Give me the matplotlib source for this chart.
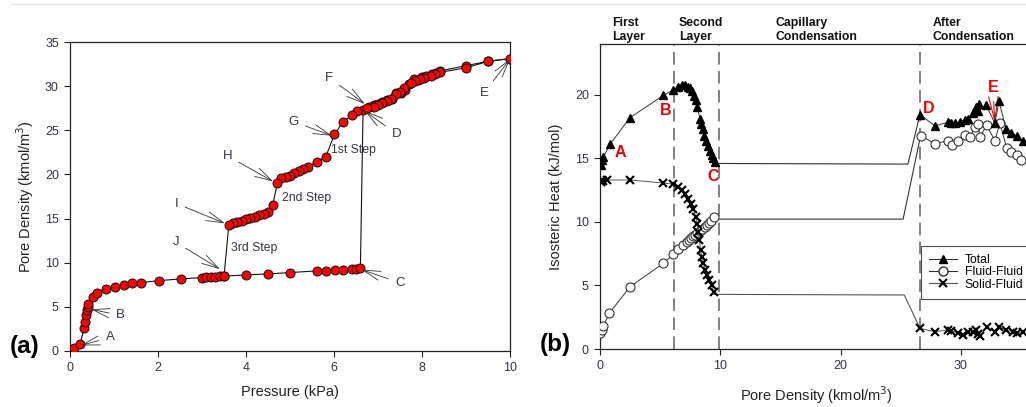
import matplotlib
matplotlib.use("Agg")
import matplotlib.pyplot as plt
from matplotlib.lines import Line2D

plt.rcParams['font.family'] = ['Liberation Sans', 'DejaVu Sans']

# ---- (a) adsorption / desorption isotherm ----
ads_p = [0.02, 0.09, 0.23, 0.32, 0.34, 0.36, 0.38, 0.40, 0.42, 0.53, 0.62, 0.82, 1.02,
         1.23, 1.42, 1.62, 2.02, 2.52, 3.01, 3.10, 3.20, 3.30, 3.40, 3.50, 4.01, 4.51,
         5.01, 5.62, 5.82, 6.02, 6.21, 6.42, 6.50, 6.60,
         6.66, 6.80, 6.91, 7.00, 7.10, 7.21, 7.31, 7.42, 7.52, 7.61, 7.70, 7.82, 7.91,
         8.01, 8.10, 8.22, 8.31, 8.41, 9.00, 9.51, 10.0]
ads_rho = [0.08, 0.27, 0.76, 2.55, 3.30, 4.05, 4.60, 5.00, 5.27, 6.10, 6.60, 7.00, 7.27,
           7.47, 7.65, 7.73, 7.95, 8.15, 8.30, 8.35, 8.37, 8.40, 8.43, 8.47, 8.60, 8.72,
           8.87, 9.06, 9.10, 9.17, 9.20, 9.25, 9.27, 9.37,
           27.3, 27.65, 27.9, 28.0, 28.2, 28.4, 28.6, 29.25, 29.3, 29.6, 30.3, 30.8, 30.7,
           31.1, 31.15, 31.35, 31.5, 31.75, 32.35, 32.85, 33.15]

des_p = [10.0, 9.51, 9.00, 8.42, 8.30, 8.20, 8.05, 7.95, 7.85, 7.75, 7.60, 7.50, 7.40,
         7.30, 7.20, 7.10, 7.00, 6.90, 6.75, 6.52, 6.41, 6.21, 6.01, 5.81, 5.61, 5.41,
         5.30, 5.20, 5.10, 5.00, 4.90, 4.80, 4.71, 4.61, 4.51, 4.40, 4.30, 4.20, 4.10,
         4.00, 3.90, 3.80, 3.70, 3.61, 3.50]
des_rho = [33.15, 32.85, 32.1, 31.6, 31.4, 31.2, 31.0, 30.8, 30.6, 30.35, 29.8, 29.4, 29.1,
           28.6, 28.3, 28.1, 27.9, 27.7, 27.55, 27.25, 26.7, 26.0, 24.55, 21.97, 21.45, 20.9,
           20.6, 20.35, 20.2, 19.85, 19.7, 19.6, 19.0, 16.55, 15.7, 15.5, 15.35, 15.2, 15.05,
           14.9, 14.75, 14.6, 14.5, 14.3, 8.45]

# point labels: text position, arrow tip
iso_labels = ['A', 'B', 'C', 'D', 'E', 'F', 'G', 'H', 'I', 'J']
iso_text = [(0.91, 1.5), (1.15, 4.0), (7.5, 7.7), (7.42, 24.6), (9.41, 29.25),
            (5.89, 31.0), (5.08, 26.0), (3.58, 22.1), (2.42, 16.7), (2.41, 12.3)]
iso_tip = [(0.25, 0.6), (0.48, 4.7), (6.63, 9.2), (6.7, 27.2), (10.0, 33.1),
           (6.7, 28.0), (5.95, 24.4), (4.62, 19.2), (3.52, 14.45), (3.41, 9.25)]
step_labels = ['1st Step', '2nd Step', '3rd Step']
step_pos = [(5.94, 22.8), (4.81, 17.3), (3.65, 11.6)]

# ---- (b) isosteric heat ----
tot_x1 = [0.06, 0.14, 0.28, 0.83, 2.49, 5.26, 6.10, 6.50, 6.85, 7.10, 7.30, 7.48, 7.67,
          7.80, 7.98, 8.10, 8.30, 8.40, 8.55, 8.67, 8.80, 8.95, 9.14, 9.28, 9.42, 9.56]
tot_y1 = [14.5, 14.9, 15.1, 16.1, 18.2, 19.95, 20.4, 20.65, 20.8, 20.75, 20.65, 20.55, 20.3,
          19.9, 19.6, 19.05, 18.13, 17.7, 17.35, 16.8, 16.4, 16.0, 15.6, 15.3, 15.05, 14.7]
tot_x2 = [26.6, 27.85, 28.95, 29.2, 29.5, 29.93, 30.34, 30.6, 31.0, 31.3, 31.5, 31.45,
          32.1, 32.83, 33.17, 33.75, 34.2, 34.7, 35.2]
tot_y2 = [18.45, 17.55, 17.85, 17.8, 17.75, 17.85, 18.05, 18.1, 18.6, 19.05, 19.3, 18.7,
          19.2, 17.75, 19.5, 17.35, 17.0, 16.75, 16.4]
tot_gap_x = [9.56, 25.6, 26.6]
tot_gap_y = [14.6, 14.55, 18.45]

ff_x1 = [0.0, 0.14, 0.28, 0.77, 2.49, 5.26, 6.10, 6.50, 6.93, 7.20, 7.40, 7.58, 7.70,
         7.90, 8.10, 8.30, 8.50, 8.70, 8.90, 9.10, 9.24, 9.48]
ff_y1 = [1.28, 1.47, 1.81, 2.8, 4.9, 6.74, 7.44, 7.84, 8.18, 8.4, 8.6, 8.75, 8.86,
         9.0, 9.13, 9.3, 9.43, 9.6, 9.74, 9.93, 10.1, 10.35]
ff_x2 = [26.66, 27.85, 28.95, 29.3, 29.78, 30.33, 30.75, 31.17, 31.45, 31.58, 32.14,
         32.83, 33.25, 33.8, 34.2, 34.63, 35.03]
ff_y2 = [16.8, 16.15, 16.4, 16.05, 16.35, 16.85, 16.7, 17.45, 17.7, 16.65, 17.6,
         16.4, 17.8, 15.85, 15.5, 15.3, 14.9]
ff_gap_x = [9.48, 25.2, 26.66]
ff_gap_y = [10.22, 10.22, 16.8]

sf_x1 = [0.06, 0.14, 0.28, 0.60, 2.49, 5.20, 6.10, 6.50, 6.80, 7.10, 7.34, 7.56, 7.76,
         7.95, 8.10, 8.17, 8.26, 8.36, 8.45, 8.60, 8.73, 8.87, 9.06, 9.28, 9.48]
sf_y1 = [13.15, 13.3, 13.25, 13.3, 13.3, 13.07, 12.97, 12.73, 12.5, 12.16, 11.8, 11.4, 11.0,
         10.4, 9.8, 9.2, 8.6, 7.8, 7.25, 6.75, 6.2, 5.8, 5.4, 5.0, 4.45]
sf_x2 = [26.6, 27.85, 28.95, 29.2, 29.8, 30.2, 30.6, 31.0, 31.3, 31.4, 31.58, 32.14,
         32.83, 33.2, 33.75, 34.3, 34.7, 35.2]
sf_y2 = [1.63, 1.36, 1.5, 1.45, 1.23, 1.1, 1.3, 1.36, 1.5, 1.2, 1.0, 1.7,
         1.36, 1.7, 1.52, 1.36, 1.23, 1.36]
sf_gap_x = [9.48, 25.3, 26.6]
sf_gap_y = [4.3, 4.25, 1.63]

region_x = [6.12, 9.9, 26.6]
region_names = ['First\nLayer', 'Second\nLayer', 'Capillary\nCondensation', 'After\nCondensation']
region_text_x = [0.97, 6.57, 14.6, 27.65]
heat_labels = ['A', 'B', 'C', 'D', 'E']
heat_pos = [(1.72, 15.5), (5.49, 18.73), (9.37, 13.6), (27.3, 18.92), (32.7, 20.6)]

W, H = 1026, 407
fig = plt.figure(figsize=(W / 100, H / 100), dpi=100)
fig.add_artist(Line2D([11 / W, 1], [1 - 4 / H] * 2, color='#e6e6e6', lw=1,
                      transform=fig.transFigure))

axc = '#222222'
tickc = '#333344'


def style_axes(ax):
    for s in ax.spines.values():
        s.set_color(axc)
        s.set_linewidth(0.9)
    ax.tick_params(direction='out', length=4, width=0.8, color=axc, pad=4,
                   labelsize=9, labelcolor=tickc, top=False, right=False)


# (a)
ax1 = fig.add_axes([70 / W, (H - 350.7) / H, 440 / W, 308.4 / H])
ax1.plot(ads_p, ads_rho, '-', color='#111111', lw=0.8, zorder=2)
ax1.plot(des_p, des_rho, '-', color='#111111', lw=0.8, zorder=2)
ax1.plot(ads_p, ads_rho, 'o', ms=6.5, mfc='#ff0000', mec='#111111', mew=0.7, zorder=3)
ax1.plot(des_p, des_rho, 'o', ms=6.5, mfc='#ff0000', mec='#111111', mew=0.7, zorder=3)
for lab, txt, tip in zip(iso_labels, iso_text, iso_tip):
    ax1.annotate(lab, xy=tip, xytext=txt, fontsize=9.5, color='#333344',
                 ha='center', va='center',
                 arrowprops=dict(arrowstyle='->,head_length=1.3,head_width=0.35',
                                 color='#333333', lw=0.6, shrinkA=3, shrinkB=0))
for lab, pos in zip(step_labels, step_pos):
    ax1.text(pos[0], pos[1], lab, fontsize=8.8, color='#333344', ha='left', va='center')
ax1.set_xlim(0, 10)
ax1.set_ylim(0, 35)
ax1.set_xticks(range(0, 11, 2))
ax1.set_yticks(range(0, 36, 5))
style_axes(ax1)
ax1.set_xlabel('Pressure (kPa)', fontsize=10.5, color='#222222')
ax1.set_ylabel('Pore Density (kmol/m$^3$)', fontsize=10.5, color='#222222')
ax1.xaxis.set_label_coords(0.5, -0.11)
ax1.yaxis.set_label_coords(-0.077, 0.5)
fig.text(10 / W, 1 - 347 / H, '(a)', fontsize=17.5, fontweight='bold', va='center', ha='left')

# (b)
ax2 = fig.add_axes([600 / W, (H - 349) / H, 433 / W, 305 / H])
for xv in region_x:
    ax2.axvline(xv, color='#777777', lw=1.3, dashes=(7, 3.5), zorder=1)
lc = '#333333'
ax2.plot(tot_gap_x, tot_gap_y, '-', color=lc, lw=0.8)
ax2.plot(ff_gap_x, ff_gap_y, '-', color=lc, lw=0.8)
ax2.plot(sf_gap_x, sf_gap_y, '-', color='#555555', lw=0.8)
for xs, ys in ((tot_x1, tot_y1), (tot_x2, tot_y2)):
    ax2.plot(xs, ys, '-^', color=lc, lw=0.7, ms=6, mfc='black', mec='black', zorder=4)
for xs, ys in ((ff_x1, ff_y1), (ff_x2, ff_y2)):
    ax2.plot(xs, ys, '-o', color=lc, lw=0.7, ms=6.5, mfc='white', mec='#333333',
             mew=0.8, zorder=3)
for xs, ys in ((sf_x1, sf_y1), (sf_x2, sf_y2)):
    ax2.plot(xs, ys, '-x', color='#555555', lw=0.7, ms=5.5, mec='black', mew=1.5, zorder=3)
for lab, pos in zip(heat_labels[:4], heat_pos[:4]):
    ax2.text(pos[0], pos[1], lab, fontsize=11.5, fontweight='bold', color='#ee0000',
             ha='center', va='center')
ax2.annotate(heat_labels[4], xy=(tot_x2[13], tot_y2[13]), xytext=heat_pos[4],
             fontsize=11.5, fontweight='bold', color='#ee0000', ha='center', va='center',
             arrowprops=dict(arrowstyle='->,head_length=1.5,head_width=0.3',
                             color='#ee0000', lw=0.8, shrinkA=3, shrinkB=0,
                             relpos=(0.5, 0.0)))
for name, xv in zip(region_names, region_text_x):
    ax2.text(xv, 1.004, name, transform=ax2.get_xaxis_transform(), fontsize=8.8,
             fontweight='bold', ha='left', va='bottom', linespacing=1.15, color='#111111')
ax2.set_xlim(0, 36)
ax2.set_ylim(0, 24)
ax2.set_xticks([0, 10, 20, 30])
ax2.set_yticks([0, 5, 10, 15, 20])
style_axes(ax2)
ax2.set_xlabel('Pore Density (kmol/m$^3$)', fontsize=10.5, color='#222222')
ax2.set_ylabel('Isosteric Heat (kJ/mol)', fontsize=10.5, color='#222222')
ax2.xaxis.set_label_coords(0.5, -0.116)
ax2.yaxis.set_label_coords(-0.0855, 0.5)
handles = [
    Line2D([], [], color=lc, lw=0.8, marker='^', ms=6, mfc='black', mec='black'),
    Line2D([], [], color=lc, lw=0.8, marker='o', ms=6.5, mfc='white', mec='#333333'),
    Line2D([], [], color='#555555', lw=0.8, marker='x', ms=5.5, mec='black', mew=1.5),
]
leg = ax2.legend(handles, ['Total', 'Fluid-Fluid', 'Solid-Fluid'], loc='upper left',
                 bbox_to_anchor=(0.7406, 0.3387), fontsize=8.8, frameon=True,
                 fancybox=False, borderpad=0.7, handlelength=2.3, handletextpad=0.6,
                 labelspacing=0.02, borderaxespad=0)
leg.get_frame().set_edgecolor('#222222')
leg.get_frame().set_linewidth(0.8)
fig.text(540 / W, 1 - 345 / H, '(b)', fontsize=17.5, fontweight='bold', va='center', ha='left')

fig.savefig('out.png', dpi=100)
